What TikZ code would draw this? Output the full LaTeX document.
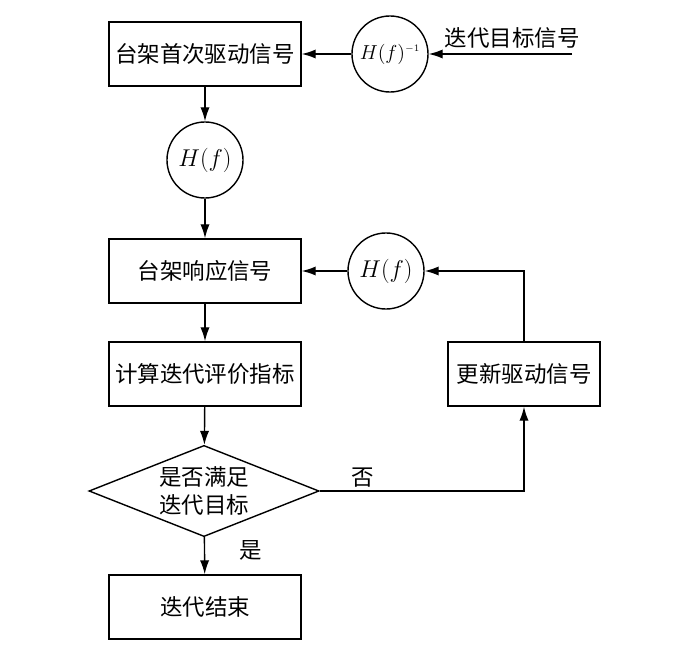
\documentclass[tikz,border=0pt]{standalone}
\usepackage{fontspec}
\newfontfamily\cjk{Noto Sans CJK SC}
\usetikzlibrary{arrows.meta,positioning,shapes.geometric,calc}

\begin{document}
\begin{tikzpicture}[x=0.025cm, y=-0.025cm, line width=1pt,
    box/.style={draw, minimum width=4.8cm, minimum height=1.6cm,
                font=\cjk\fontsize{16}{19}\selectfont, inner sep=2pt},
    tf/.style={draw, circle, minimum size=1.9cm, inner sep=0pt,
               font=\fontsize{16.5}{19}\selectfont},
    test/.style={draw, diamond, aspect=2.53, minimum width=5.75cm,
                 minimum height=2.28cm, inner sep=0pt, align=center,
                 font=\cjk\fontsize{16}{20}\selectfont},
    lbl/.style={font=\cjk\fontsize{16}{19}\selectfont},
    arr/.style={-{Latex[length=3.5mm,width=2.3mm]}}
  ]
    \useasboundingbox (0,0) rectangle (692,656);

    % Forward path
    \node[box] (drive) at (205, 54) {台架首次驱动信号};
    \node[tf, font=\fontsize{15}{18}\selectfont] (hinv) at (390, 54)
      {$H(f)^{\scriptscriptstyle -1}$};
    \coordinate (target) at (572, 54);
    \node[lbl] (targettxt) at (512, 38) {迭代目标信号};
    \node[tf] (hmid) at (205, 160) {$H(f)$};
    \node[box] (resp) at (205, 271) {台架响应信号};
    \node[box] (eval) at (205, 374) {计算迭代评价指标};
    \node[test] (check) at (204, 491) {是否满足\\迭代目标};
    \node[box] (done) at (205, 607) {迭代结束};

    % Feedback path
    \node[box, minimum width=3.8cm] (update) at (524, 374) {更新驱动信号};
    \node[tf] (hfb) at (386, 271) {$H(f)$};

    % Labels
    \node[lbl] (no) at (363, 478) {否};
    \node[lbl] (yes) at (251, 550) {是};

    % Connectors
    \draw[arr] (target) -- (hinv);
    \draw[arr] (hinv) -- (drive);
    \draw[arr] (drive) -- (hmid);
    \draw[arr] (hmid) -- (resp);
    \draw[arr] (resp) -- (eval);
    \draw[arr] (eval) -- (check);
    \draw[arr] (check) -- (done);
    \draw[arr] (check.east) -| (update.south);
    \draw[arr] (update.north) |- (hfb.east);
    \draw[arr] (hfb) -- (resp);
  \end{tikzpicture}
\end{document}
